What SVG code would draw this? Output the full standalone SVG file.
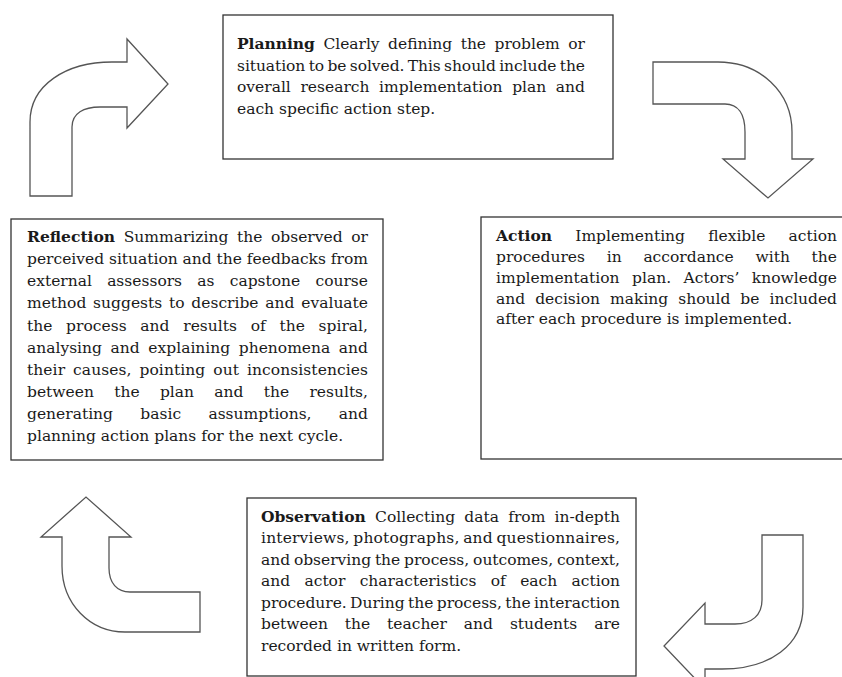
<svg xmlns="http://www.w3.org/2000/svg" width="842" height="677" viewBox="0 0 842 677">
<style>
.box{fill:#fff;stroke:#333;stroke-width:1.3}
.arr{fill:#fff;stroke:#555;stroke-width:1.3;stroke-linejoin:miter}
text{font-family:"DejaVu Serif","Liberation Serif",serif;font-size:15.5px;fill:#1a1a1a}
.b{font-weight:bold}
</style>
<rect width="842" height="677" fill="#fff"/>
<g id="connectors">
<path class="arr" d="M30,196 L30,122 C30,85 66,62 112,62 L127,62 L127,39 L168,84 L127,128 L127,107 L100,107 C84,107 72,113 72,127 L72,196 Z"/>
<path class="arr" d="M653,62 L718,62 C760,62 792,92 792,132 L792,159 L813,159 L768,198 L723,159 L745,159 L745,132 C745,114 738,104 725,104 L653,104 Z"/>
<path class="arr" d="M200,592 L130,592 C117,592 109,583 109,568 L109,537 L131,537 L86,497 L41,537 L62,537 L62,566 C62,604 90,632 125,632 L200,632 Z"/>
<path class="arr" d="M762,535 L803,535 L803,607 C803,645 770,669 722,669 L705,669 L705,689 L664,646 L705,603 L705,624 L735,624 C752,624 762,615 762,600 Z"/>
</g>
<g id="planning">
<rect class="box" x="223" y="15" width="390" height="144"/>
<text x="237" y="49" word-spacing="3.6" textLength="348" lengthAdjust="spacing"><tspan class="b">Planning</tspan> Clearly defining the problem or</text>
<text x="237" y="70.7" word-spacing="-1.5" textLength="348" lengthAdjust="spacing">situation to be solved. This should include the</text>
<text x="237" y="92.3" word-spacing="4.7" textLength="348" lengthAdjust="spacing">overall research implementation plan and</text>
<text x="237" y="114">each specific action step.</text>
</g>
<g id="action">
<rect class="box" x="481" y="217" width="370" height="242"/>
<text x="496" y="241" word-spacing="18.3" textLength="341" lengthAdjust="spacing"><tspan class="b">Action</tspan> Implementing flexible action</text>
<text x="496" y="262" word-spacing="16.8" textLength="341" lengthAdjust="spacing">procedures in accordance with the</text>
<text x="496" y="283" word-spacing="7.6" textLength="341" lengthAdjust="spacing">implementation plan. Actors’ knowledge</text>
<text x="496" y="303.5" word-spacing="5.1" textLength="341" lengthAdjust="spacing">and decision making should be included</text>
<text x="496" y="324">after each procedure is implemented.</text>
</g>
<g id="observation">
<rect class="box" x="247" y="498" width="389" height="178"/>
<text x="261" y="521.5" word-spacing="4.3" textLength="359" lengthAdjust="spacing"><tspan class="b">Observation</tspan> Collecting data from in-depth</text>
<text x="261" y="543" word-spacing="-1.5" textLength="359" lengthAdjust="spacing">interviews, photographs, and questionnaires,</text>
<text x="261" y="564.5" word-spacing="-1" textLength="359" lengthAdjust="spacing">and observing the process, outcomes, context,</text>
<text x="261" y="586" word-spacing="9.4" textLength="359" lengthAdjust="spacing">and actor characteristics of each action</text>
<text x="261" y="607.5" word-spacing="-1.5" textLength="359" lengthAdjust="spacing">procedure. During the process, the interaction</text>
<text x="261" y="629" word-spacing="12" textLength="359" lengthAdjust="spacing">between the teacher and students are</text>
<text x="261" y="650.5">recorded in written form.</text>
</g>
<g id="reflection">
<rect class="box" x="11" y="219" width="372" height="241"/>
<text x="27" y="242.3" word-spacing="3.6" textLength="341" lengthAdjust="spacing"><tspan class="b">Reflection</tspan> Summarizing the observed or</text>
<text x="27" y="264.3" textLength="341" lengthAdjust="spacing">perceived situation and the feedbacks from</text>
<text x="27" y="286.4" word-spacing="10.3" textLength="341" lengthAdjust="spacing">external assessors as capstone course</text>
<text x="27" y="308.4" word-spacing="1.9" textLength="341" lengthAdjust="spacing">method suggests to describe and evaluate</text>
<text x="27" y="330.5" word-spacing="8.8" textLength="341" lengthAdjust="spacing">the process and results of the spiral,</text>
<text x="27" y="352.5" word-spacing="3.7" textLength="341" lengthAdjust="spacing">analysing and explaining phenomena and</text>
<text x="27" y="374.6" word-spacing="2.9" textLength="341" lengthAdjust="spacing">their causes, pointing out inconsistencies</text>
<text x="27" y="396.6" word-spacing="15.4" textLength="341" lengthAdjust="spacing">between the plan and the results,</text>
<text x="27" y="418.7" word-spacing="22.4" textLength="341" lengthAdjust="spacing">generating basic assumptions, and</text>
<text x="27" y="440.7">planning action plans for the next cycle.</text>
</g>
</svg>
